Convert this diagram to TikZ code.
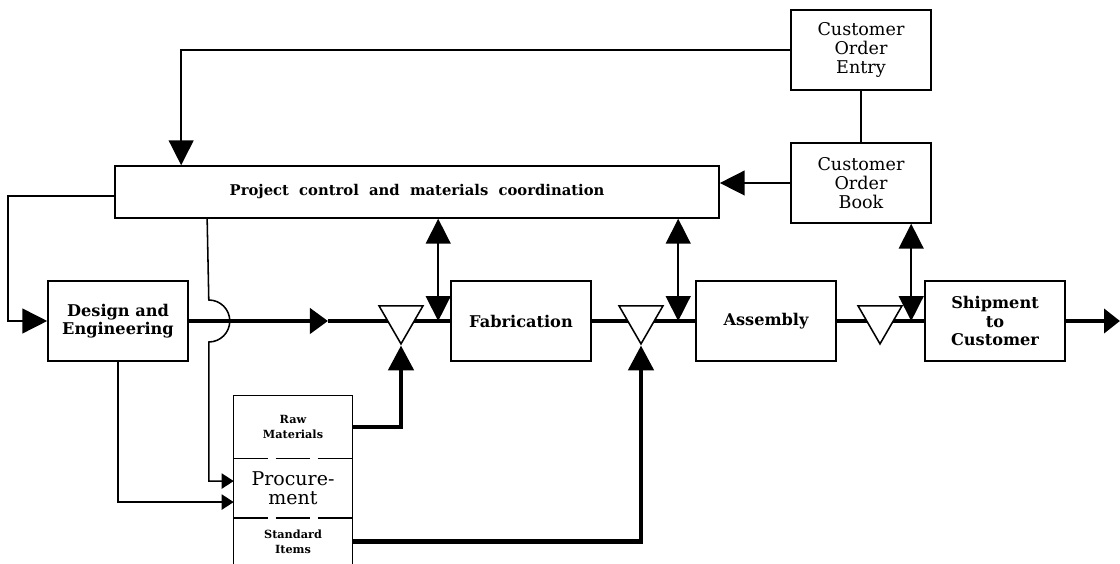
\documentclass[tikz,border=0pt]{standalone}
\usepackage{fontspec}
\setmainfont{DejaVu Serif}
\usetikzlibrary{shapes.geometric, arrows.meta, positioning, calc}

\tikzset{
  box/.style={draw, line width=1.1pt, fill=white, minimum width=3.5cm, minimum height=2cm, align=center, inner sep=2pt},
  plainbox/.style={box, font=\fontsize{12.5}{13.5}\selectfont},
  boldbox/.style={box, font=\fontsize{11.5}{13}\selectfont\bfseries},
  stockpart/.style={minimum width=2.95cm, inner sep=1pt, align=center},
  stock/.style={regular polygon, regular polygon sides=3, shape border rotate=180, minimum size=1.27cm, inner sep=0pt, draw, line width=1.1pt, fill=white},
  ctrl/.style={line width=1.1pt},
  flow/.style={line width=3.5pt},
  bighead/.tip={Triangle[length=0.62cm, width=0.62cm]},
  midhead/.tip={Triangle[length=0.45cm, width=0.62cm]},
  endhead/.tip={Triangle[length=0.4cm, width=0.6cm]},
  smallhead/.tip={Triangle[length=0.3cm, width=0.38cm]}
}

\begin{document}
\begin{tikzpicture}[x=0.025cm, y=0.025cm]
  \useasboundingbox (0,0) rectangle (1120,564);

  % order handling
  \node[plainbox] (coe) at (861,514) {Customer\\Order\\Entry};
  \node[plainbox] (cob) at (861,381) {Customer\\Order\\Book};
  \node[box, minimum width=15.1cm, minimum height=1.3cm, font=\fontsize{10.5}{12}\selectfont\bfseries] (proj) at (417,372)
    {Project\ \ control\ \ and\ \ materials\ \ coordination};

  % production line
  \node[boldbox] (de) at (118,243) {Design and\\Engineering};
  \node[boldbox] (fab) at (521,243) {Fabrication};
  \node[boldbox] (asm) at (766,243) {Assembly};
  \node[boldbox] (ship) at (995,243) {Shipment\\to\\Customer};

  % procurement
  \node[stockpart, minimum height=1.55cm, font=\fontsize{8}{10.5}\selectfont\bfseries] (rawm) at (293,137) {Raw\\Materials};
  \node[stockpart, minimum height=1.475cm, below=0pt of rawm, font=\fontsize{13.5}{13.5}\selectfont] (proc) {Procure-\\ment};
  \node[stockpart, minimum height=1.175cm, below=0pt of proc, font=\fontsize{8}{10.5}\selectfont\bfseries] (stdi) {Standard\\Items};
  \draw[ctrl] (stdi.south west) |- (rawm.north east) -- (stdi.south east);
  \draw[ctrl, dash pattern=on 0.85cm off 0.2cm] (proc.north west) -- (proc.north east);
  \draw[ctrl, dash pattern=on 0.85cm off 0.2cm] (proc.south west) -- (proc.south east);

  % material flow
  \coordinate (flowmark) at (328,243);
  \coordinate (outend) at (1120,243);
  \draw[flow, -{midhead}] (de.east) -- (flowmark);
  \draw[flow] (flowmark) -- (fab.west);
  \draw[flow] (fab.east) -- (asm.west);
  \draw[flow] (asm.east) -- (ship.west);
  \draw[flow, -{endhead}] (ship.east) -- (outend);

  \node[stock] (st1) at (401,245.5) {};
  \node[stock] (st2) at (641,245.5) {};
  \node[stock] (st3) at (880,245.5) {};

  \draw[flow, -{bighead}] (rawm.east) -| (st1.corner 1);
  \draw[flow, -{bighead}] (stdi.east) -| (st2.corner 1);

  % control lines
  \draw[ctrl, -{bighead}] (coe.west) -| ($(proj.north west)+(67,0)$);
  \draw[ctrl] (coe) -- (cob);
  \draw[ctrl, -{bighead}] (cob.west) -- (cob.west -| proj.east);
  \draw[ctrl, -{bighead}] ($(proj.west)+(0,-4)$) -- ++(-106,0) |- (de.west);

  \coordinate (fabin) at ($(fab.west)+(-12,0)$);
  \coordinate (asmin) at ($(asm.west)+(-17,0)$);
  \coordinate (shipin) at ($(ship.west)+(-13,0)$);
  \draw[ctrl, {bighead}-{bighead}] (proj.south -| fabin) -- (fabin);
  \draw[ctrl, {bighead}-{bighead}] (proj.south -| asmin) -- (asmin);
  \draw[ctrl, {bighead}-{bighead}] (cob.south -| shipin) -- (shipin);

  \draw[ctrl, -{smallhead}] ($(proj.south west)+(93,0)$) -- ($(de.east)+(20,21)$)
    arc[start angle=90, end angle=-90, radius=0.525cm] |- ($(proc.west)+(0,7)$);
  \draw[ctrl, -{smallhead}] (de.south) |- ($(proc.west)+(0,-14)$);
\end{tikzpicture}
\end{document}
